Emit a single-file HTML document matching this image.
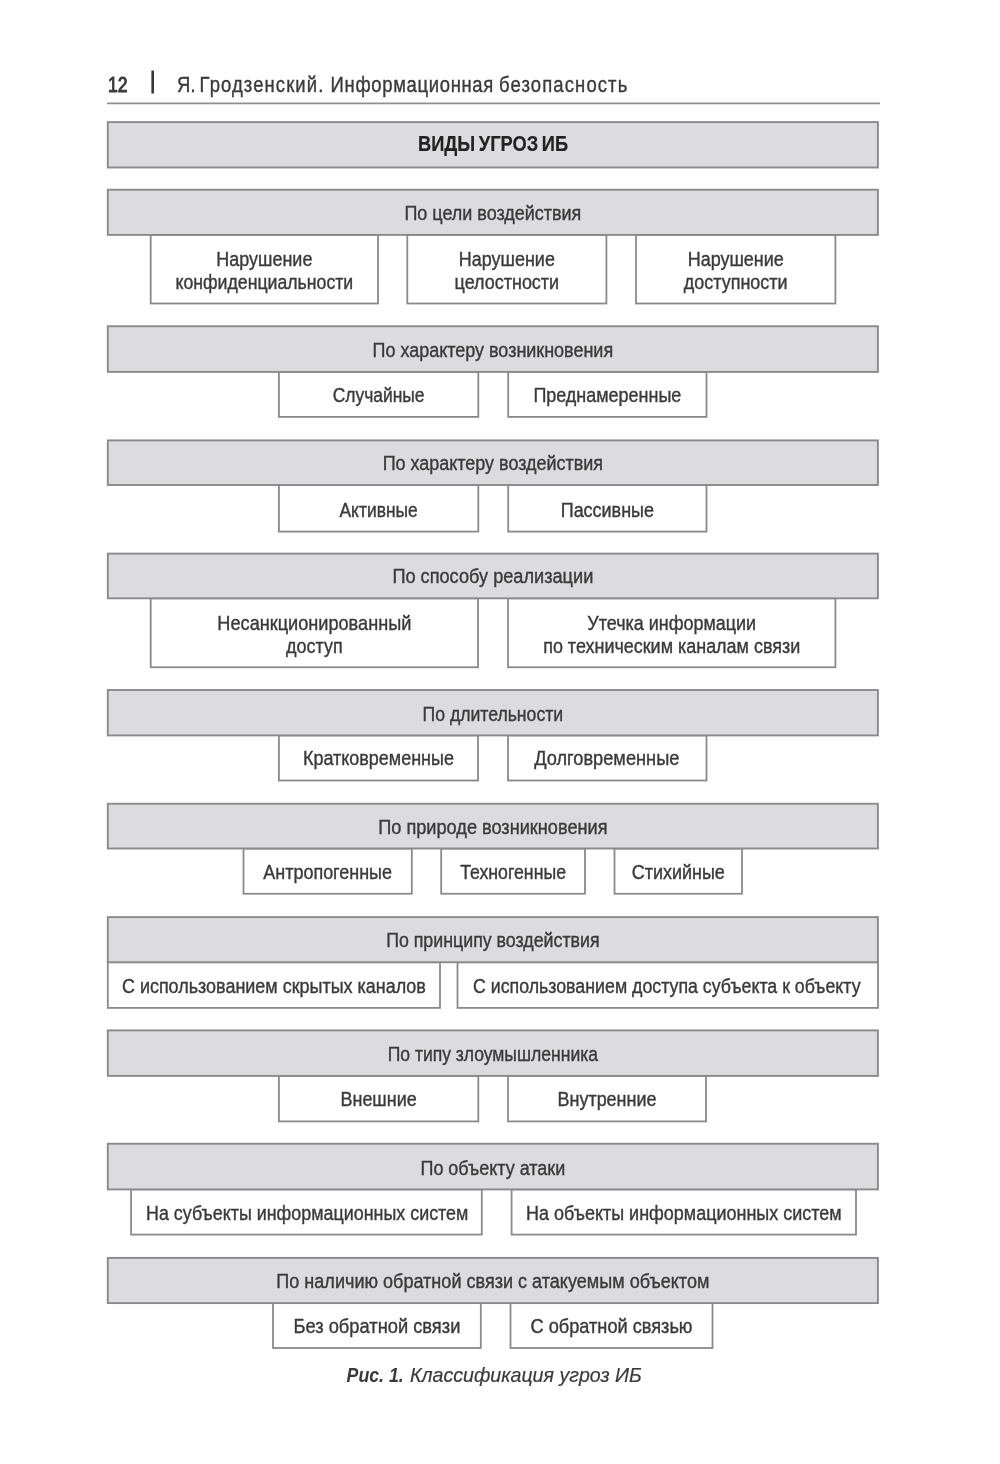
<!DOCTYPE html>
<html lang="ru"><head><meta charset="utf-8"><title>Виды угроз ИБ</title>
<style>
html,body{margin:0;padding:0;background:#fff}
body{width:1000px;height:1464px;overflow:hidden;position:relative}
svg{position:absolute;left:0;top:0;display:block;will-change:transform}
text{font-family:"Liberation Sans",sans-serif;font-size:21.0px;fill:#3a3a3a;text-anchor:middle;stroke:#3a3a3a;stroke-width:0.4px}
text.b{font-weight:bold;fill:#222;stroke:#222;font-size:22px;word-spacing:-1.8px;stroke-width:0.2px}
text.h{text-anchor:start;font-size:22px}
text.cap{font-style:italic;font-size:20px;text-anchor:start}
rect.g{fill:#dcdcde;stroke:#8a8a8a;stroke-width:1.9}
rect.w{fill:#fff;stroke:#8a8a8a;stroke-width:1.8}
</style></head><body>
<svg width="1000" height="1464" viewBox="0 0 1000 1464">
<line x1="107" y1="103.4" x2="880" y2="103.4" stroke="#909090" stroke-width="1.8"/>
<rect x="151.4" y="70.5" width="2.6" height="23" fill="#383838"/>
<text class="h" style="stroke-width:1px;letter-spacing:0.2px" transform="translate(107.9 91.9) scale(0.80 1)">12</text>
<text class="h" style="letter-spacing:0.3px" transform="translate(177.0 91.9) scale(0.84 1)">Я.</text>
<text class="h" style="letter-spacing:1.3px" transform="translate(199.6 91.9) scale(0.84 1)">Гродзенский.</text>
<text class="h" style="letter-spacing:0.8px" transform="translate(330.6 91.9) scale(0.84 1)">Информационная</text>
<text class="h" style="letter-spacing:1.33px" transform="translate(499.0 91.9) scale(0.84 1)">безопасность</text>
<rect class="g" x="107.8" y="122.1" width="770.10" height="45.40"/>
<rect class="w" x="150.7" y="234.9" width="227.30" height="68.60"/>
<rect class="w" x="407.3" y="234.9" width="199.10" height="68.60"/>
<rect class="w" x="636" y="234.9" width="199.40" height="68.60"/>
<rect class="g" x="107.8" y="189.75" width="770.10" height="45.15"/>
<rect class="w" x="278.9" y="371.9" width="199.40" height="45.00"/>
<rect class="w" x="508.2" y="371.9" width="198.30" height="45.00"/>
<rect class="g" x="107.8" y="326.25" width="770.10" height="45.65"/>
<rect class="w" x="278.9" y="485.0" width="199.40" height="46.60"/>
<rect class="w" x="508.2" y="485.0" width="198.30" height="46.60"/>
<rect class="g" x="107.8" y="440.4" width="770.10" height="44.60"/>
<rect class="w" x="150.7" y="598.3" width="327.30" height="68.95"/>
<rect class="w" x="508" y="598.3" width="327.40" height="68.95"/>
<rect class="g" x="107.8" y="553.6" width="770.10" height="44.70"/>
<rect class="w" x="278.9" y="735.4" width="199.10" height="45.10"/>
<rect class="w" x="508" y="735.4" width="198.50" height="45.10"/>
<rect class="g" x="107.8" y="690" width="770.10" height="45.40"/>
<rect class="w" x="243.5" y="848.5" width="168.30" height="45.25"/>
<rect class="w" x="441.2" y="848.5" width="143.80" height="45.25"/>
<rect class="w" x="614.5" y="848.5" width="127.50" height="45.25"/>
<rect class="g" x="107.8" y="803.75" width="770.10" height="44.75"/>
<rect class="w" x="107.8" y="962.25" width="332.20" height="45.65"/>
<rect class="w" x="457.5" y="962.25" width="420.50" height="45.65"/>
<rect class="g" x="107.8" y="917.1" width="770.10" height="45.15"/>
<rect class="w" x="278.9" y="1075.9" width="199.40" height="45.50"/>
<rect class="w" x="508" y="1075.9" width="198.00" height="45.50"/>
<rect class="g" x="107.8" y="1030.4" width="770.10" height="45.50"/>
<rect class="w" x="131.1" y="1189.4" width="350.70" height="45.20"/>
<rect class="w" x="511.6" y="1189.4" width="344.40" height="45.20"/>
<rect class="g" x="107.8" y="1143.75" width="770.10" height="45.65"/>
<rect class="w" x="273" y="1303.1" width="207.80" height="44.90"/>
<rect class="w" x="510.5" y="1303.1" width="202.00" height="44.90"/>
<rect class="g" x="107.8" y="1257.9" width="770.10" height="45.20"/>
<text class="b" transform="translate(493.05 150.90) scale(0.8320 1)">ВИДЫ УГРОЗ ИБ</text>
<text transform="translate(492.85 220.00) scale(0.8559 1)">По цели воздействия</text>
<text transform="translate(264.35 266.30) scale(0.8559 1)">Нарушение</text>
<text transform="translate(264.35 289.20) scale(0.8431 1)">конфиденциальности</text>
<text transform="translate(506.85 266.30) scale(0.8559 1)">Нарушение</text>
<text transform="translate(506.85 289.20) scale(0.8559 1)">целостности</text>
<text transform="translate(735.70 266.30) scale(0.8559 1)">Нарушение</text>
<text transform="translate(735.70 289.20) scale(0.8559 1)">доступности</text>
<text transform="translate(492.85 357.00) scale(0.8559 1)">По характеру возникновения</text>
<text transform="translate(378.60 401.85) scale(0.8319 1)">Случайные</text>
<text transform="translate(607.35 401.85) scale(0.8559 1)">Преднамеренные</text>
<text transform="translate(492.85 470.10) scale(0.8559 1)">По характеру воздействия</text>
<text transform="translate(378.60 516.55) scale(0.8302 1)">Активные</text>
<text transform="translate(607.35 516.55) scale(0.8559 1)">Пассивные</text>
<text transform="translate(492.85 583.40) scale(0.8653 1)">По способу реализации</text>
<text transform="translate(314.35 629.70) scale(0.8636 1)">Несанкционированный</text>
<text transform="translate(314.35 652.60) scale(0.8559 1)">доступ</text>
<text transform="translate(671.70 629.70) scale(0.8559 1)">Утечка информации</text>
<text transform="translate(671.70 652.60) scale(0.8559 1)">по техническим каналам связи</text>
<text transform="translate(492.85 720.50) scale(0.8388 1)">По длительности</text>
<text transform="translate(378.45 765.45) scale(0.8559 1)">Кратковременные</text>
<text transform="translate(606.75 765.45) scale(0.8679 1)">Долговременные</text>
<text transform="translate(492.85 833.60) scale(0.8653 1)">По природе возникновения</text>
<text transform="translate(327.65 878.70) scale(0.8559 1)">Антропогенные</text>
<text transform="translate(513.10 878.70) scale(0.8439 1)">Техногенные</text>
<text transform="translate(678.25 878.70) scale(0.8559 1)">Стихийные</text>
<text transform="translate(492.85 947.35) scale(0.8473 1)">По принципу воздействия</text>
<text transform="translate(273.90 992.85) scale(0.8559 1)">С использованием скрытых каналов</text>
<text transform="translate(666.75 992.85) scale(0.8465 1)">С использованием доступа субъекта к объекту</text>
<text transform="translate(492.85 1061.00) scale(0.8362 1)">По типу злоумышленника</text>
<text transform="translate(378.60 1106.35) scale(0.8559 1)">Внешние</text>
<text transform="translate(607.00 1106.35) scale(0.8559 1)">Внутренние</text>
<text transform="translate(492.85 1174.50) scale(0.8559 1)">По объекту атаки</text>
<text transform="translate(307.15 1219.55) scale(0.8525 1)">На субъекты информационных систем</text>
<text transform="translate(683.80 1219.55) scale(0.8559 1)">На объекты информационных систем</text>
<text transform="translate(492.85 1288.20) scale(0.8602 1)">По наличию обратной связи с атакуемым объектом</text>
<text transform="translate(376.90 1332.95) scale(0.8713 1)">Без обратной связи</text>
<text transform="translate(611.50 1332.95) scale(0.8661 1)">С обратной связью</text>
<text class="cap" style="font-weight:bold;stroke-width:0" transform="translate(346.6 1381.8) scale(0.887 1)">Рис. 1.</text>
<text class="cap" style="stroke-width:0.2px" transform="translate(410.0 1381.8) scale(0.98 1)">Классификация угроз ИБ</text>
</svg>
</body></html>
